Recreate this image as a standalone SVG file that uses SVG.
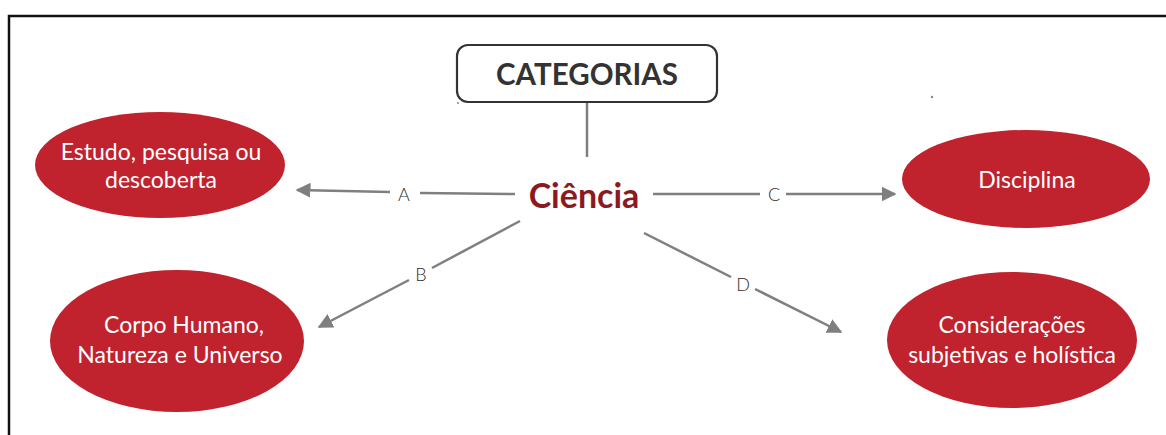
<svg xmlns="http://www.w3.org/2000/svg" width="1166" height="435" viewBox="0 0 1166 435">
<style>
.ell{fill:#c0222e}
.et{font-family:Lato,"Open Sans",sans-serif;font-size:23px;fill:#ffffff;text-anchor:middle}
.con{stroke:#7f7f7f;stroke-width:2.5;fill:none}
.lbl{font-family:Lato,"Open Sans",sans-serif;font-size:18px;font-weight:300;fill:#2e2e2e;text-anchor:middle}
</style>
<defs>
<marker id="arr" viewBox="0 0 10 10" refX="9" refY="5" markerWidth="6" markerHeight="6" orient="auto" markerUnits="strokeWidth">
<path d="M0,0 L10,5 L0,10 z" fill="#7f7f7f"/>
</marker>
</defs>
<rect width="1166" height="435" fill="#ffffff"/>
<path d="M9,435 V16 H1166" fill="none" stroke="#111" stroke-width="2.5"/>
<circle cx="458" cy="103" r="1" fill="#888"/>
<circle cx="932" cy="97" r="1.2" fill="#888"/>
<g id="connectors">
<line class="con" x1="587" y1="102" x2="587" y2="157"/>
<line class="con" x1="515" y1="194" x2="420" y2="193"/>
<line class="con" x1="390" y1="192" x2="297" y2="190" marker-end="url(#arr)"/>
<line class="con" x1="653" y1="194" x2="760" y2="194"/>
<line class="con" x1="786" y1="194" x2="895" y2="194" marker-end="url(#arr)"/>
<line class="con" x1="520" y1="221" x2="432" y2="268"/>
<line class="con" x1="409" y1="280" x2="319" y2="327" marker-end="url(#arr)"/>
<line class="con" x1="644" y1="233" x2="731" y2="277"/>
<line class="con" x1="755" y1="289" x2="841" y2="332" marker-end="url(#arr)"/>
<text class="lbl" x="404" y="201">A</text>
<text class="lbl" x="421" y="281">B</text>
<text class="lbl" x="774" y="201">C</text>
<text class="lbl" x="743" y="291">D</text>
</g>
<g id="categorias">
<rect x="457" y="45" width="260" height="57" rx="11" fill="#ffffff" stroke="#333" stroke-width="2.2"/>
<text x="587" y="85" font-family="Lato,'Open Sans',sans-serif" font-size="29.5" font-weight="bold" fill="#333" text-anchor="middle">CATEGORIAS</text>
</g>
<g id="ciencia">
<text x="584" y="208" font-family="Lato,'Open Sans',sans-serif" font-size="34" font-weight="bold" fill="#8b1a1f" text-anchor="middle">Ciência</text>
</g>
<g id="estudo">
<ellipse class="ell" cx="160" cy="165" rx="125" ry="53"/>
<text class="et" x="161" y="160">Estudo, pesquisa ou</text>
<text class="et" x="161" y="188">descoberta</text>
</g>
<g id="corpo">
<ellipse class="ell" cx="177" cy="341" rx="127" ry="71"/>
<text class="et" x="184" y="333">Corpo Humano,</text>
<text class="et" x="180" y="363">Natureza e Universo</text>
</g>
<g id="disciplina">
<ellipse class="ell" cx="1026" cy="179" rx="124" ry="49"/>
<text class="et" x="1027" y="188">Disciplina</text>
</g>
<g id="consideracoes">
<ellipse class="ell" cx="1012" cy="340" rx="125" ry="68"/>
<text class="et" x="1012" y="333">Considerações</text>
<text class="et" x="1012" y="363">subjetivas e holística</text>
</g>
</svg>
